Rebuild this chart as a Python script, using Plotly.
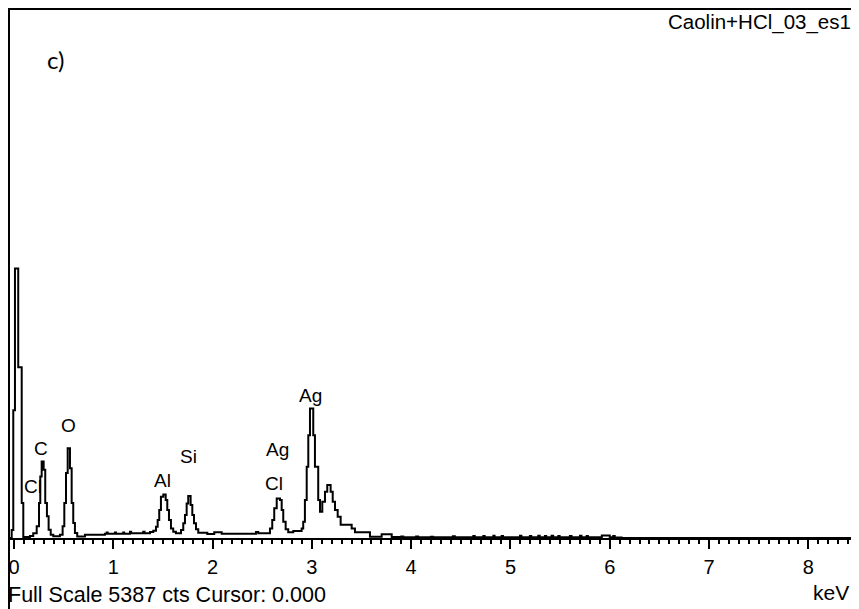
import plotly.graph_objects as go

# ---------------- data ----------------
energy_kev = [
    -0.060, -0.023, -0.007, 0.010, 0.043, 0.078, 0.094,
    0.161, 0.194, 0.229, 0.252, 0.265, 0.279, 0.299, 0.315, 0.332, 0.349, 0.370, 0.396,
    0.463, 0.490, 0.507, 0.524, 0.541, 0.564, 0.581, 0.597, 0.614, 0.637,
    0.715, 0.916, 0.934, 0.944, 1.017, 1.027, 1.100, 1.110, 1.168, 1.180, 1.302, 1.315, 1.370,
    1.403, 1.430, 1.447, 1.463, 1.480, 1.504, 1.528, 1.544, 1.561, 1.581, 1.604, 1.631,
    1.682, 1.705, 1.722, 1.739, 1.755, 1.779, 1.796, 1.813, 1.833, 1.856, 1.947, 2.017, 2.092,
    2.437, 2.460,
    2.578, 2.601, 2.621, 2.646, 2.679, 2.696, 2.712, 2.736, 2.762, 2.813,
    2.897, 2.913, 2.930, 2.948, 2.964, 2.981, 3.014, 3.031, 3.064, 3.082,
    3.105, 3.132, 3.155, 3.189, 3.210, 3.233, 3.260, 3.290, 3.401, 3.434, 3.585, 3.703, 3.804,
    3.900, 3.920, 4.050, 4.070, 4.200, 4.220, 4.420, 4.440, 4.626, 4.640, 4.727, 4.740,
    4.828, 4.840, 4.911, 4.925, 5.096, 5.110, 5.196, 5.210, 5.280, 5.295, 5.347, 5.360,
    5.414, 5.430, 5.482, 5.495, 5.599, 5.615, 5.700, 5.715, 5.767, 5.780, 5.920, 6.000,
    6.035, 6.050, 6.120, 8.510,
]
counts = [
    0, 81, 1301, 2744, 1738, 356, 10,
    20, 48, 119, 356, 627, 780, 694, 356, 221, 84, 34, 17,
    34, 119, 356, 661, 915, 711, 356, 152, 51, 15,
    34, 44, 55, 44, 55, 44, 55, 44, 64, 48, 64, 48, 60,
    75, 115, 183, 285, 420, 444, 386, 285, 183, 98, 64, 48,
    81, 149, 234, 352, 427, 335, 234, 149, 88, 54, 41, 58, 44,
    61, 48,
    98, 183, 302, 403, 386, 285, 166, 88, 58, 71,
    98, 166, 386, 725, 1047, 1318, 1047, 725, 386, 267,
    369, 471, 539, 471, 369, 285, 217, 135, 98, 58, 13, 38, 10,
    15, 8, 15, 8, 14, 8, 18, 8, 20, 8, 20, 8,
    22, 8, 20, 8, 22, 8, 20, 8, 22, 8, 20, 8,
    22, 8, 20, 8, 20, 8, 22, 8, 20, 8, 25, 8,
    20, 5, 0, 0,
]

peak_labels = ["Cl", "C", "O", "Al", "Si", "Ag", "Cl", "Ag"]
label_kev = [0.191, 0.270, 0.547, 1.495, 1.755, 2.654, 2.618, 2.988]
label_counts = [520, 915, 1150, 590, 830, 905, 550, 1450]

major_ticks = [0, 1, 2, 3, 4, 5, 6, 7, 8]
tick_labels = ["0", "1", "2", "3", "4", "5", "6", "7", "8"]

full_scale_cts = 5387
x_range = [-0.050, 8.510]

sample_name = "Caolin+HCl_03_es1"
footer_text = "Full Scale 5387 cts Cursor: 0.000"
unit_text = "keV"
panel_text = "c)"

# ---------------- layout geometry ----------------
# The page body has an 8 px default margin, so the figure starts at page (8, 8).
OFF = 8
W, H = 859 - OFF, 609 - OFF
ML, MR, MT, MB = 1, 0, 1, 71
PW, PH = W - ML - MR, H - MT - MB


def px_x(page_px):
    return (page_px - OFF - ML) / PW


def px_y(page_py):
    return (H - MB - (page_py - OFF)) / PH


FONT = "Liberation Sans, Arial, sans-serif"

fig = go.Figure()
fig.add_trace(go.Scatter(
    x=energy_kev, y=counts, mode="lines", line=dict(color="black", width=2, shape="hv"),
    hoverinfo="skip", showlegend=False,
))

annotations = []
for t, xk, yc in zip(peak_labels, label_kev, label_counts):
    annotations.append(dict(x=xk, y=yc, xref="x", yref="y", text=t, showarrow=False,
                            xanchor="center", yanchor="middle",
                            font=dict(family=FONT, size=19, color="black")))

annotations += [
    dict(x=px_x(853), y=px_y(22), xref="paper", yref="paper", text=sample_name,
         showarrow=False, xanchor="right", yanchor="middle",
         font=dict(family=FONT, size=20.5, color="black")),
    dict(x=px_x(6), y=px_y(595), xref="paper", yref="paper", text=footer_text,
         showarrow=False, xanchor="left", yanchor="middle",
         font=dict(family=FONT, size=21.5, color="black")),
    dict(x=px_x(851), y=px_y(593), xref="paper", yref="paper", text=unit_text,
         showarrow=False, xanchor="right", yanchor="middle",
         font=dict(family=FONT, size=21, color="black")),
    dict(x=px_x(55), y=px_y(59.5), xref="paper", yref="paper", text=panel_text,
         showarrow=False, xanchor="center", yanchor="middle",
         font=dict(family="Lato, Carlito, sans-serif", size=24, color="black")),
]

shapes = [
    dict(type="line", xref="paper", yref="paper", x0=px_x(8), x1=1.05, y0=px_y(9), y1=px_y(9),
         line=dict(color="black", width=2)),
    dict(type="line", xref="paper", yref="paper", x0=px_x(9), x1=px_x(9), y0=px_y(8), y1=px_y(615),
         line=dict(color="black", width=2)),
]

fig.update_layout(
    width=W, height=H,
    margin=dict(l=ML, r=MR, t=MT, b=MB, pad=0, autoexpand=False),
    paper_bgcolor="white", plot_bgcolor="white",
    showlegend=False,
    annotations=annotations,
    shapes=shapes,
    xaxis=dict(
        range=x_range, showgrid=False, zeroline=False, automargin=False,
        showline=True, linecolor="black", linewidth=2,
        tickmode="array", tickvals=major_ticks, ticktext=tick_labels,
        ticks="outside", ticklen=9, tickwidth=2, tickcolor="black",
        ticklabelstandoff=1,
        tickfont=dict(family=FONT, size=20, color="black"),
        minor=dict(dtick=0.1, tick0=0, ticks="outside", ticklen=4, tickwidth=2,
                   tickcolor="black", showgrid=False),
    ),
    yaxis=dict(range=[0, full_scale_cts], visible=False, showgrid=False,
               zeroline=False, automargin=False),
)

fig.write_html("out.html")
